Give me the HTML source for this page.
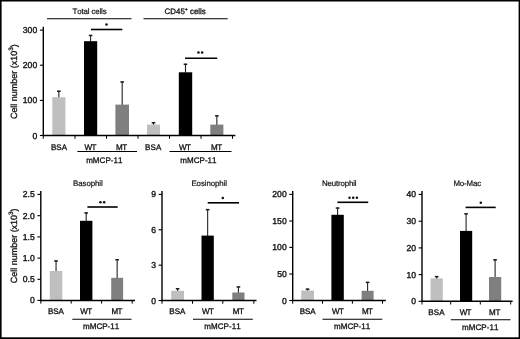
<!DOCTYPE html>
<html><head><meta charset="utf-8"><title>Figure</title>
<style>
html,body{margin:0;padding:0;background:#fff;}
body{width:520px;height:339px;overflow:hidden;font-family:"Liberation Sans",sans-serif;}
svg{display:block;}
svg text{font-family:"Liberation Sans",sans-serif;fill:#111;stroke:#111;stroke-width:0.3px;text-rendering:geometricPrecision;font-kerning:none;}
</style></head><body>
<svg width="520" height="339" viewBox="0 0 520 339">
<defs><filter id="bl" x="0" y="0" width="520" height="339" filterUnits="userSpaceOnUse"><feGaussianBlur stdDeviation="0.2"/></filter><filter id="bs" x="0" y="0" width="520" height="339" filterUnits="userSpaceOnUse"><feGaussianBlur stdDeviation="0.18"/></filter></defs>
<rect x="0" y="0" width="520" height="339" fill="#fff"/>
<g filter="url(#bs)">
<line x1="58.85" y1="90.8" x2="58.85" y2="97.7" stroke="#222" stroke-width="1.1"/>
<line x1="57.050000000000004" y1="91.25" x2="60.65" y2="91.25" stroke="#1a1a1a" stroke-width="1.5"/>
<rect x="52.3" y="97.2" width="13.1" height="38.3" fill="#bfbfbf"/>
<line x1="90.6" y1="35" x2="90.6" y2="41.7" stroke="#222" stroke-width="1.1"/>
<line x1="88.8" y1="35.45" x2="92.39999999999999" y2="35.45" stroke="#1a1a1a" stroke-width="1.5"/>
<rect x="84" y="41.2" width="13.2" height="94.3" fill="#000"/>
<line x1="122.2" y1="81.5" x2="122.2" y2="105.1" stroke="#222" stroke-width="1.1"/>
<line x1="120.4" y1="81.95" x2="124.0" y2="81.95" stroke="#1a1a1a" stroke-width="1.5"/>
<rect x="115.4" y="104.6" width="13.6" height="30.9" fill="#7f7f7f"/>
<line x1="153.5" y1="122.3" x2="153.5" y2="125.1" stroke="#222" stroke-width="1.1"/>
<line x1="151.7" y1="122.75" x2="155.3" y2="122.75" stroke="#1a1a1a" stroke-width="1.5"/>
<rect x="147" y="124.6" width="13" height="10.9" fill="#bfbfbf"/>
<line x1="185.5" y1="63.8" x2="185.5" y2="72.8" stroke="#222" stroke-width="1.1"/>
<line x1="183.7" y1="64.25" x2="187.3" y2="64.25" stroke="#1a1a1a" stroke-width="1.5"/>
<rect x="178.8" y="72.3" width="13.4" height="63.2" fill="#000"/>
<line x1="216.85000000000002" y1="115.4" x2="216.85000000000002" y2="125.1" stroke="#222" stroke-width="1.1"/>
<line x1="215.05" y1="115.85000000000001" x2="218.65000000000003" y2="115.85000000000001" stroke="#1a1a1a" stroke-width="1.5"/>
<rect x="210.3" y="124.6" width="13.1" height="10.9" fill="#7f7f7f"/>
<line x1="43.3" y1="26.700000000000003" x2="43.3" y2="136.1" stroke="#000" stroke-width="1.4"/>
<line x1="39.9" y1="30.1" x2="43.3" y2="30.1" stroke="#000" stroke-width="1.1"/>
<line x1="39.9" y1="65.2" x2="43.3" y2="65.2" stroke="#000" stroke-width="1.1"/>
<line x1="39.9" y1="100.4" x2="43.3" y2="100.4" stroke="#000" stroke-width="1.1"/>
<line x1="39.9" y1="135.5" x2="43.3" y2="135.5" stroke="#000" stroke-width="1.1"/>
<line x1="42.599999999999994" y1="135.5" x2="235.4" y2="135.5" stroke="#000" stroke-width="1.5"/>
<line x1="43.3" y1="135.5" x2="43.3" y2="138.8" stroke="#000" stroke-width="1.0"/>
<line x1="75" y1="135.5" x2="75" y2="138.8" stroke="#000" stroke-width="1.0"/>
<line x1="106.5" y1="135.5" x2="106.5" y2="138.8" stroke="#000" stroke-width="1.0"/>
<line x1="138" y1="135.5" x2="138" y2="138.8" stroke="#000" stroke-width="1.0"/>
<line x1="169.5" y1="135.5" x2="169.5" y2="138.8" stroke="#000" stroke-width="1.0"/>
<line x1="201" y1="135.5" x2="201" y2="138.8" stroke="#000" stroke-width="1.0"/>
<line x1="232.5" y1="135.5" x2="232.5" y2="138.8" stroke="#000" stroke-width="1.0"/>
<line x1="47" y1="18.8" x2="131.5" y2="18.8" stroke="#000" stroke-width="1.1"/>
<line x1="143.5" y1="18.8" x2="227.7" y2="18.8" stroke="#000" stroke-width="1.1"/>
<line x1="91" y1="29.5" x2="122.3" y2="29.5" stroke="#000" stroke-width="1.6"/>
<circle cx="106.5" cy="24.6" r="1.25" fill="#111"/>
<line x1="185" y1="58.2" x2="217.2" y2="58.2" stroke="#000" stroke-width="1.6"/>
<circle cx="198.45" cy="52.6" r="1.25" fill="#111"/>
<circle cx="202.15" cy="52.6" r="1.25" fill="#111"/>
<line x1="77.4" y1="151.5" x2="137" y2="151.5" stroke="#000" stroke-width="1.1"/>
<line x1="169.5" y1="151.5" x2="231.5" y2="151.5" stroke="#000" stroke-width="1.1"/>
<line x1="56.05" y1="260.5" x2="56.05" y2="271.5" stroke="#222" stroke-width="1.1"/>
<line x1="54.25" y1="260.95" x2="57.849999999999994" y2="260.95" stroke="#1a1a1a" stroke-width="1.5"/>
<rect x="49.8" y="271" width="12.5" height="29.4" fill="#bfbfbf"/>
<line x1="86.2" y1="212.5" x2="86.2" y2="221.3" stroke="#222" stroke-width="1.1"/>
<line x1="84.4" y1="212.95" x2="88.0" y2="212.95" stroke="#1a1a1a" stroke-width="1.5"/>
<rect x="80" y="220.8" width="12.4" height="79.6" fill="#000"/>
<line x1="117.15" y1="259.3" x2="117.15" y2="278.3" stroke="#222" stroke-width="1.1"/>
<line x1="115.35000000000001" y1="259.75" x2="118.95" y2="259.75" stroke="#1a1a1a" stroke-width="1.5"/>
<rect x="111.2" y="277.8" width="11.9" height="22.6" fill="#7f7f7f"/>
<line x1="40.8" y1="191.0" x2="40.8" y2="301.0" stroke="#000" stroke-width="1.4"/>
<line x1="37.4" y1="194.4" x2="40.8" y2="194.4" stroke="#000" stroke-width="1.1"/>
<line x1="37.4" y1="215.7" x2="40.8" y2="215.7" stroke="#000" stroke-width="1.1"/>
<line x1="37.4" y1="236.9" x2="40.8" y2="236.9" stroke="#000" stroke-width="1.1"/>
<line x1="37.4" y1="258.1" x2="40.8" y2="258.1" stroke="#000" stroke-width="1.1"/>
<line x1="37.4" y1="279.3" x2="40.8" y2="279.3" stroke="#000" stroke-width="1.1"/>
<line x1="37.4" y1="300.4" x2="40.8" y2="300.4" stroke="#000" stroke-width="1.1"/>
<line x1="40.099999999999994" y1="300.4" x2="135" y2="300.4" stroke="#000" stroke-width="1.5"/>
<line x1="40.8" y1="300.4" x2="40.8" y2="303.59999999999997" stroke="#000" stroke-width="1.0"/>
<line x1="71.2" y1="300.4" x2="71.2" y2="303.59999999999997" stroke="#000" stroke-width="1.0"/>
<line x1="101.6" y1="300.4" x2="101.6" y2="303.59999999999997" stroke="#000" stroke-width="1.0"/>
<line x1="132.2" y1="300.4" x2="132.2" y2="303.59999999999997" stroke="#000" stroke-width="1.0"/>
<line x1="87.4" y1="207" x2="117.7" y2="207" stroke="#000" stroke-width="1.6"/>
<circle cx="100.45" cy="202.3" r="1.25" fill="#111"/>
<circle cx="104.15" cy="202.3" r="1.25" fill="#111"/>
<line x1="72.3" y1="319.2" x2="131.5" y2="319.2" stroke="#000" stroke-width="1.1"/>
<line x1="177.6" y1="288.3" x2="177.6" y2="291.3" stroke="#222" stroke-width="1.1"/>
<line x1="175.79999999999998" y1="288.75" x2="179.4" y2="288.75" stroke="#1a1a1a" stroke-width="1.5"/>
<rect x="171.2" y="290.8" width="12.8" height="9.75" fill="#bfbfbf"/>
<line x1="207.65" y1="209.2" x2="207.65" y2="236.1" stroke="#222" stroke-width="1.1"/>
<line x1="205.85" y1="209.64999999999998" x2="209.45000000000002" y2="209.64999999999998" stroke="#1a1a1a" stroke-width="1.5"/>
<rect x="201.5" y="235.6" width="12.3" height="64.95" fill="#000"/>
<line x1="238.4" y1="286.5" x2="238.4" y2="293.0" stroke="#222" stroke-width="1.1"/>
<line x1="236.6" y1="286.95" x2="240.20000000000002" y2="286.95" stroke="#1a1a1a" stroke-width="1.5"/>
<rect x="232.3" y="292.5" width="12.2" height="8.05" fill="#7f7f7f"/>
<line x1="162" y1="191.0" x2="162" y2="301.15000000000003" stroke="#000" stroke-width="1.4"/>
<line x1="158.6" y1="194.4" x2="162" y2="194.4" stroke="#000" stroke-width="1.1"/>
<line x1="158.6" y1="229.8" x2="162" y2="229.8" stroke="#000" stroke-width="1.1"/>
<line x1="158.6" y1="265.2" x2="162" y2="265.2" stroke="#000" stroke-width="1.1"/>
<line x1="158.6" y1="300.55" x2="162" y2="300.55" stroke="#000" stroke-width="1.1"/>
<line x1="161.3" y1="300.55" x2="256.5" y2="300.55" stroke="#000" stroke-width="1.5"/>
<line x1="162" y1="300.55" x2="162" y2="303.75" stroke="#000" stroke-width="1.0"/>
<line x1="192.5" y1="300.55" x2="192.5" y2="303.75" stroke="#000" stroke-width="1.0"/>
<line x1="222.8" y1="300.55" x2="222.8" y2="303.75" stroke="#000" stroke-width="1.0"/>
<line x1="253.8" y1="300.55" x2="253.8" y2="303.75" stroke="#000" stroke-width="1.0"/>
<line x1="207.7" y1="202.8" x2="239" y2="202.8" stroke="#000" stroke-width="1.6"/>
<circle cx="222.8" cy="198" r="1.25" fill="#111"/>
<line x1="193" y1="319.3" x2="252.8" y2="319.3" stroke="#000" stroke-width="1.1"/>
<line x1="307.6" y1="288.7" x2="307.6" y2="291.0" stroke="#222" stroke-width="1.1"/>
<line x1="305.8" y1="289.15" x2="309.40000000000003" y2="289.15" stroke="#1a1a1a" stroke-width="1.5"/>
<rect x="301.2" y="290.5" width="12.8" height="10.0" fill="#bfbfbf"/>
<line x1="337.6" y1="207.6" x2="337.6" y2="215.3" stroke="#222" stroke-width="1.1"/>
<line x1="335.8" y1="208.04999999999998" x2="339.40000000000003" y2="208.04999999999998" stroke="#1a1a1a" stroke-width="1.5"/>
<rect x="331.4" y="214.8" width="12.4" height="85.7" fill="#000"/>
<line x1="367.6" y1="281.9" x2="367.6" y2="291.3" stroke="#222" stroke-width="1.1"/>
<line x1="365.8" y1="282.34999999999997" x2="369.40000000000003" y2="282.34999999999997" stroke="#1a1a1a" stroke-width="1.5"/>
<rect x="361.6" y="290.8" width="12.0" height="9.7" fill="#7f7f7f"/>
<line x1="292.7" y1="191.0" x2="292.7" y2="301.1" stroke="#000" stroke-width="1.4"/>
<line x1="289.3" y1="194.4" x2="292.7" y2="194.4" stroke="#000" stroke-width="1.1"/>
<line x1="289.3" y1="221" x2="292.7" y2="221" stroke="#000" stroke-width="1.1"/>
<line x1="289.3" y1="247.4" x2="292.7" y2="247.4" stroke="#000" stroke-width="1.1"/>
<line x1="289.3" y1="274" x2="292.7" y2="274" stroke="#000" stroke-width="1.1"/>
<line x1="289.3" y1="300.5" x2="292.7" y2="300.5" stroke="#000" stroke-width="1.1"/>
<line x1="292.0" y1="300.5" x2="385.8" y2="300.5" stroke="#000" stroke-width="1.5"/>
<line x1="292.7" y1="300.5" x2="292.7" y2="303.7" stroke="#000" stroke-width="1.0"/>
<line x1="322.5" y1="300.5" x2="322.5" y2="303.7" stroke="#000" stroke-width="1.0"/>
<line x1="352.4" y1="300.5" x2="352.4" y2="303.7" stroke="#000" stroke-width="1.0"/>
<line x1="382.5" y1="300.5" x2="382.5" y2="303.7" stroke="#000" stroke-width="1.0"/>
<line x1="337.4" y1="202.3" x2="368.2" y2="202.3" stroke="#000" stroke-width="1.6"/>
<circle cx="349.5" cy="197.7" r="1.25" fill="#111"/>
<circle cx="353.2" cy="197.7" r="1.25" fill="#111"/>
<circle cx="356.9" cy="197.7" r="1.25" fill="#111"/>
<line x1="322.5" y1="319.3" x2="382.3" y2="319.3" stroke="#000" stroke-width="1.1"/>
<line x1="436.65" y1="276.2" x2="436.65" y2="278.9" stroke="#222" stroke-width="1.1"/>
<line x1="434.84999999999997" y1="276.65" x2="438.45" y2="276.65" stroke="#1a1a1a" stroke-width="1.5"/>
<rect x="430.5" y="278.4" width="12.3" height="22.9" fill="#bfbfbf"/>
<line x1="466.1" y1="213.4" x2="466.1" y2="231.4" stroke="#222" stroke-width="1.1"/>
<line x1="464.3" y1="213.85" x2="467.90000000000003" y2="213.85" stroke="#1a1a1a" stroke-width="1.5"/>
<rect x="460" y="230.9" width="12.2" height="70.4" fill="#000"/>
<line x1="495.1" y1="259.4" x2="495.1" y2="277.5" stroke="#222" stroke-width="1.1"/>
<line x1="493.3" y1="259.84999999999997" x2="496.90000000000003" y2="259.84999999999997" stroke="#1a1a1a" stroke-width="1.5"/>
<rect x="489" y="277" width="12.2" height="24.3" fill="#7f7f7f"/>
<line x1="422" y1="191.0" x2="422" y2="301.90000000000003" stroke="#000" stroke-width="1.4"/>
<line x1="418.6" y1="194.4" x2="422" y2="194.4" stroke="#000" stroke-width="1.1"/>
<line x1="418.6" y1="221.2" x2="422" y2="221.2" stroke="#000" stroke-width="1.1"/>
<line x1="418.6" y1="247.9" x2="422" y2="247.9" stroke="#000" stroke-width="1.1"/>
<line x1="418.6" y1="274.6" x2="422" y2="274.6" stroke="#000" stroke-width="1.1"/>
<line x1="418.6" y1="301.3" x2="422" y2="301.3" stroke="#000" stroke-width="1.1"/>
<line x1="421.3" y1="301.3" x2="512.6" y2="301.3" stroke="#000" stroke-width="1.5"/>
<line x1="422" y1="301.3" x2="422" y2="304.5" stroke="#000" stroke-width="1.0"/>
<line x1="450.7" y1="301.3" x2="450.7" y2="304.5" stroke="#000" stroke-width="1.0"/>
<line x1="480.3" y1="301.3" x2="480.3" y2="304.5" stroke="#000" stroke-width="1.0"/>
<line x1="510.7" y1="301.3" x2="510.7" y2="304.5" stroke="#000" stroke-width="1.0"/>
<line x1="465.6" y1="207.4" x2="495.7" y2="207.4" stroke="#000" stroke-width="1.6"/>
<circle cx="480.8" cy="202.8" r="1.25" fill="#111"/>
<line x1="450.8" y1="319.8" x2="510.5" y2="319.8" stroke="#000" stroke-width="1.1"/>
</g>
<g filter="url(#bl)">
<text x="37.199999999999996" y="33.1" font-size="8.6" text-anchor="end" style="stroke-width:0.36px">300</text>
<text x="37.199999999999996" y="68.2" font-size="8.6" text-anchor="end" style="stroke-width:0.36px">200</text>
<text x="37.199999999999996" y="103.4" font-size="8.6" text-anchor="end" style="stroke-width:0.36px">100</text>
<text x="37.199999999999996" y="138.5" font-size="8.6" text-anchor="end" style="stroke-width:0.36px">0</text>
<text x="89.6" y="13.7" font-size="7.9" text-anchor="middle" textLength="34.2" lengthAdjust="spacing" style="stroke-width:0.2px">Total cells</text>
<text x="164.6" y="13.7" font-size="7.9" text-anchor="start" textLength="41.2" lengthAdjust="spacing">CD45<tspan font-size="5" dy="-3">+</tspan><tspan dy="3"> cells</tspan></text>
<text x="59" y="149.5" font-size="8.0" text-anchor="middle" textLength="16.2" lengthAdjust="spacing">BSA</text>
<text x="90.4" y="149.5" font-size="8.0" text-anchor="middle" textLength="11.8" lengthAdjust="spacing">WT</text>
<text x="121.6" y="149.5" font-size="8.0" text-anchor="middle" textLength="11.2" lengthAdjust="spacing">MT</text>
<text x="153.2" y="149.5" font-size="8.0" text-anchor="middle" textLength="16.2" lengthAdjust="spacing">BSA</text>
<text x="185" y="149.5" font-size="8.0" text-anchor="middle" textLength="11.8" lengthAdjust="spacing">WT</text>
<text x="216.5" y="149.5" font-size="8.0" text-anchor="middle" textLength="11.2" lengthAdjust="spacing">MT</text>
<text x="104.3" y="162.6" font-size="8.0" text-anchor="middle" textLength="36.3" lengthAdjust="spacing">mMCP-11</text>
<text x="198.4" y="162.6" font-size="8.0" text-anchor="middle" textLength="36.3" lengthAdjust="spacing">mMCP-11</text>
<text transform="translate(16.9,81.7) rotate(-90)" font-size="9" text-anchor="middle" textLength="74.8" lengthAdjust="spacingAndGlyphs">Cell number (x10<tspan font-size="6.4" dy="-4">3</tspan><tspan dy="4">)</tspan></text>
<text transform="translate(16.7,245.8) rotate(-90)" font-size="9" text-anchor="middle" textLength="74.8" lengthAdjust="spacingAndGlyphs">Cell number (x10<tspan font-size="6.4" dy="-4">3</tspan><tspan dy="4">)</tspan></text>
<text x="34.8" y="197.4" font-size="8.6" text-anchor="end" style="stroke-width:0.36px">2.5</text>
<text x="34.8" y="218.7" font-size="8.6" text-anchor="end" style="stroke-width:0.36px">2.0</text>
<text x="34.8" y="239.9" font-size="8.6" text-anchor="end" style="stroke-width:0.36px">1.5</text>
<text x="34.8" y="261.1" font-size="8.6" text-anchor="end" style="stroke-width:0.36px">1.0</text>
<text x="34.8" y="282.3" font-size="8.6" text-anchor="end" style="stroke-width:0.36px">0.5</text>
<text x="34.8" y="303.4" font-size="8.6" text-anchor="end" style="stroke-width:0.36px">0</text>
<text x="87.9" y="186.0" font-size="7.9" text-anchor="middle" textLength="29.8" lengthAdjust="spacing" style="stroke-width:0.2px">Basophil</text>
<text x="55.9" y="314.1" font-size="8.0" text-anchor="middle" textLength="15.8" lengthAdjust="spacing">BSA</text>
<text x="86.2" y="314.1" font-size="8.0" text-anchor="middle" textLength="12.1" lengthAdjust="spacing">WT</text>
<text x="116.9" y="314.1" font-size="8.0" text-anchor="middle" textLength="11" lengthAdjust="spacing">MT</text>
<text x="101.1" y="329.4" font-size="8.0" text-anchor="middle" textLength="36.3" lengthAdjust="spacing">mMCP-11</text>
<text x="156.0" y="197.4" font-size="8.6" text-anchor="end" style="stroke-width:0.36px">9</text>
<text x="156.0" y="232.8" font-size="8.6" text-anchor="end" style="stroke-width:0.36px">6</text>
<text x="156.0" y="268.2" font-size="8.6" text-anchor="end" style="stroke-width:0.36px">3</text>
<text x="156.0" y="303.55" font-size="8.6" text-anchor="end" style="stroke-width:0.36px">0</text>
<text x="209.2" y="186.0" font-size="7.9" text-anchor="middle" textLength="35.5" lengthAdjust="spacing" style="stroke-width:0.2px">Eosinophil</text>
<text x="177.3" y="314.1" font-size="8.0" text-anchor="middle" textLength="16.2" lengthAdjust="spacing">BSA</text>
<text x="207.9" y="314.1" font-size="8.0" text-anchor="middle" textLength="11.8" lengthAdjust="spacing">WT</text>
<text x="238.3" y="314.1" font-size="8.0" text-anchor="middle" textLength="11" lengthAdjust="spacing">MT</text>
<text x="222.5" y="329.4" font-size="8.0" text-anchor="middle" textLength="36.3" lengthAdjust="spacing">mMCP-11</text>
<text x="286.7" y="197.4" font-size="8.6" text-anchor="end" style="stroke-width:0.36px">200</text>
<text x="286.7" y="224.0" font-size="8.6" text-anchor="end" style="stroke-width:0.36px">150</text>
<text x="286.7" y="250.4" font-size="8.6" text-anchor="end" style="stroke-width:0.36px">100</text>
<text x="286.7" y="277.0" font-size="8.6" text-anchor="end" style="stroke-width:0.36px">50</text>
<text x="286.7" y="303.5" font-size="8.6" text-anchor="end" style="stroke-width:0.36px">0</text>
<text x="339.3" y="186.0" font-size="7.9" text-anchor="middle" textLength="34.6" lengthAdjust="spacing" style="stroke-width:0.2px">Neutrophil</text>
<text x="307.7" y="314.2" font-size="8.0" text-anchor="middle" textLength="16" lengthAdjust="spacing">BSA</text>
<text x="337.9" y="314.2" font-size="8.0" text-anchor="middle" textLength="11.8" lengthAdjust="spacing">WT</text>
<text x="367.5" y="314.2" font-size="8.0" text-anchor="middle" textLength="11" lengthAdjust="spacing">MT</text>
<text x="352.1" y="329.4" font-size="8.0" text-anchor="middle" textLength="36.3" lengthAdjust="spacing">mMCP-11</text>
<text x="416.0" y="197.4" font-size="8.6" text-anchor="end" style="stroke-width:0.36px">40</text>
<text x="416.0" y="224.2" font-size="8.6" text-anchor="end" style="stroke-width:0.36px">30</text>
<text x="416.0" y="250.9" font-size="8.6" text-anchor="end" style="stroke-width:0.36px">20</text>
<text x="416.0" y="277.6" font-size="8.6" text-anchor="end" style="stroke-width:0.36px">10</text>
<text x="416.0" y="304.3" font-size="8.6" text-anchor="end" style="stroke-width:0.36px">0</text>
<text x="467.3" y="186.0" font-size="7.9" text-anchor="middle" textLength="27.7" lengthAdjust="spacing" style="stroke-width:0.2px">Mo-Mac</text>
<text x="436.4" y="314.7" font-size="8.0" text-anchor="middle" textLength="16.4" lengthAdjust="spacing">BSA</text>
<text x="465.6" y="314.7" font-size="8.0" text-anchor="middle" textLength="11.8" lengthAdjust="spacing">WT</text>
<text x="494.7" y="314.7" font-size="8.0" text-anchor="middle" textLength="11.3" lengthAdjust="spacing">MT</text>
<text x="480.2" y="330" font-size="8.0" text-anchor="middle" textLength="36.3" lengthAdjust="spacing">mMCP-11</text>
</g>
<rect x="0" y="0" width="520" height="1.5" fill="#000"/>
<rect x="0" y="0" width="1.6" height="339" fill="#000"/>
<rect x="518.6" y="0" width="1.4" height="339" fill="#000"/>
<rect x="0" y="337.3" width="520" height="1.7" fill="#000"/>
</svg>
</body></html>
